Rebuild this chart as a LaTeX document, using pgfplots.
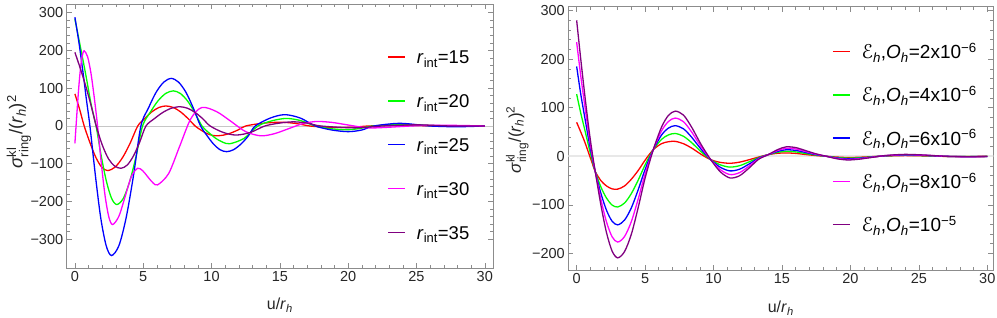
\documentclass[border=0pt]{standalone}
\usepackage{fontspec}
\setmainfont{Liberation Sans}
\newfontfamily\djv{DejaVu Sans}
\usepackage{amsmath}
\usepackage{pgfplots}
\pgfplotsset{compat=1.18}
\definecolor{mred}{rgb}{1,0,0}
\definecolor{mgreen}{rgb}{0,1,0}
\definecolor{mblue}{rgb}{0,0,1}
\definecolor{mmag}{rgb}{1,0,1}
\definecolor{mpur}{rgb}{0.5,0,0.5}
\definecolor{framegray}{gray}{0.55}
\newcommand{\lstrut}{\rule[-5pt]{0pt}{20pt}}
\pgfplotsset{
  lc/.style={legend image code/.code={\draw[#1, line width=1.5pt] (0pt,0pt) -- (17pt,0pt);}},
  mma/.style={
  scale only axis,
  axis line style={framegray, line width=0.8pt},
  tick style={framegray, line width=0.6pt},
  major tick length=5pt, minor tick length=3pt,
  minor x tick num=4, minor y tick num=4,
  tick align=inside, xtick pos=both, ytick pos=both,
  xtick={0,5,...,30},
  /pgf/number format/assume math mode=true,
  tick label style={font=\fontsize{14.5}{16}\selectfont, text=black!85},
  xlabel style={font=\fontsize{16}{18}\selectfont, text=black!85},
  legend cell align=left,
  legend style={draw=none, fill=none, inner sep=0pt, column sep=9pt},
  xlabel={u/\textit{r}\textsubscript{\textit{h}}},
  ylabel={$\text{\textit{σ}}^{\text{kl}}_{\text{ring}}$/(\textit{r}\textsubscript{\textit{h}})\textsuperscript{2}},
}}
\begin{document}
\begin{tikzpicture}
\useasboundingbox (0pt,0pt) rectangle (997pt,318pt);
% ---------------- left panel ----------------
\begin{axis}[mma, at={(66.7pt,50pt)}, anchor=south west,
  width=426.3pt, height=264pt,
  xmin=-0.6, xmax=30.6, ymin=-376, ymax=323,
  ytick={-300,-200,-100,0,100,200,300},
  yticklabels={−300,−200,−100,0,100,200,300},
  xlabel style={at={(axis description cs:0.5,-0.14)}, anchor=center},
  ylabel style={at={(axis description cs:-0.112,0.515)}, anchor=center,
    font=\fontsize{18.5}{20}\selectfont, text=black!85},
  legend style={at={(axis description cs:0.752,0.839)}, anchor=north west,
    font=\fontsize{18.5}{20}\selectfont, row sep=23.4pt},
]
\draw[gray!45, line width=0.6pt] (axis cs:-1,0) -- (axis cs:31,0);
\addplot[mred, line width=1.3pt, smooth, lc=mred] coordinates {
(0,85) (0.34,45) (0.68,0) (1.11,-45) (1.53,-83) (1.96,-109) (2.39,-118) (2.94,-109) (3.5,-83) (4.05,-45) (4.6,0) (5.12,20) (5.63,37.5) (6.15,49) (6.66,53) (7.2,49) (7.73,37.5) (8.27,20) (8.8,0) (9.19,-10) (9.58,-18.4) (9.97,-24) (10.36,-26) (10.9,-24) (11.43,-18.4) (11.97,-10) (12.5,0) (13.7,7) (15.0,10) (16.1,7) (17.2,0) (18.3,-3) (19.4,-4) (20.5,-3) (21.5,0) (24,2) (26.5,0) (28,-0.5) (30,0)};
\addlegendentry{\lstrut\textit{r}\textsubscript{int}=15}
\addplot[mgreen, line width=1.3pt, smooth, lc=mgreen] coordinates {
(0,283) (0.4,210) (0.8,135) (1.2,55) (1.55,0) (1.93,-80) (2.31,-147) (2.69,-192) (3.07,-208) (3.54,-192) (4.01,-147) (4.48,-80) (4.95,0) (5.51,36) (6.07,66) (6.64,86) (7.2,93) (7.72,86) (8.25,66) (8.77,36) (9.3,0) (9.81,-18) (10.32,-33) (10.83,-43) (11.34,-47) (12.37,-33) (13.4,0) (14.45,14) (15.5,20) (16.55,14) (17.6,0) (18.7,-7) (19.8,-10) (20.8,-7) (21.8,0) (24,4) (27,0) (30,0)};
\addlegendentry{\lstrut\textit{r}\textsubscript{int}=20}
\addplot[mblue, line width=1.3pt, smooth, lc=mblue] coordinates {
(0,288) (0.3,220) (0.6,140) (0.85,68) (1.1,0) (1.5,-131) (1.89,-243) (2.29,-317) (2.68,-343) (3.22,-317) (3.75,-243) (4.29,-131) (4.83,0) (5.39,48) (5.94,89) (6.5,116) (7.05,126) (7.59,116) (8.13,89) (8.66,48) (9.2,0) (9.68,-26) (10.15,-48) (10.63,-63) (11.1,-68) (11.6,-63) (12.15,-48) (12.7,-26) (13.2,0) (14.3,21) (15.36,30) (16.5,21) (17.6,0) (18.8,-10.6) (20.0,-15) (21.0,-10.6) (21.9,0) (23.8,7) (26,0) (28,-2) (30,0)};
\addlegendentry{\lstrut\textit{r}\textsubscript{int}=25}
\addplot[mmag, line width=1.3pt, smooth, lc=mmag] coordinates {
(0,-46) (0.15,35) (0.3,110) (0.45,165) (0.58,192) (0.68,199) (0.925,184) (1.17,141) (1.415,76) (1.66,0) (1.935,-100) (2.21,-185) (2.485,-241) (2.76,-261) (3.22,-239) (3.68,-186.5) (4.13,-134) (4.59,-112) (4.96,-118.4) (5.32,-134) (5.69,-149.6) (6.05,-156) (6.86,-126) (7.67,-53.5) (8.48,19) (9.29,49) (10.37,38) (11.45,11.5) (12.5,-15) (13.6,-26) (14.6,-20.4) (15.65,-7) (16.7,6.4) (17.7,12) (18.8,9.5) (19.85,3.5) (20.9,-2.5) (22,-5) (26,2) (30,0)};
\addlegendentry{\lstrut\textit{r}\textsubscript{int}=30}
\addplot[mpur, line width=1.3pt, smooth, lc=mpur] coordinates {
(0,195) (0.4,152) (0.8,105) (1.2,52) (1.56,0) (2.0,-50) (2.46,-87) (2.91,-106) (3.37,-112) (3.83,-103.5) (4.29,-79) (4.74,-43) (5.2,0) (5.82,19.5) (6.44,36) (7.06,47) (7.68,51) (8.24,47) (8.79,36) (9.35,19.5) (9.9,0) (10.85,-17) (11.8,-24) (12.85,-17) (13.9,0) (15,7.8) (16,11) (17,7.8) (18,0) (20.5,-5) (22.5,0) (25,3) (27.5,0) (30,0)};
\addlegendentry{\lstrut\textit{r}\textsubscript{int}=35}
\end{axis}
% ---------------- right panel ----------------
\begin{axis}[mma, at={(568.3pt,48pt)}, anchor=south west,
  width=425pt, height=263.3pt,
  xmin=-0.61, xmax=30.44, ymin=-234, ymax=308,
  ytick={-200,-100,0,100,200,300},
  yticklabels={−200,−100,0,100,200,300},
  xlabel style={at={(axis description cs:0.5,-0.144)}, anchor=center},
  ylabel style={at={(axis description cs:-0.12,0.494)}, anchor=center,
    font=\fontsize{17}{19}\selectfont, text=black!85},
  legend style={at={(axis description cs:0.62,0.870)}, anchor=north west,
    font=\fontsize{19}{21}\selectfont, row sep=22.2pt},
]
\draw[gray!18, line width=1.8pt] (axis cs:-1,0) -- (axis cs:31,0);
\addplot[mred, line width=1.3pt, smooth, lc=mred] coordinates {
(0,70) (0.3,50) (0.6,29) (0.9,5) (1.15,-15) (1.36,-31.5) (1.77,-50) (2.18,-61) (2.59,-67) (3.0,-67.5) (3.5,-61) (4.0,-47) (4.5,-29) (5.0,-8) (5.6,13.8) (6.2,26) (6.7,30) (7.2,30.8) (7.8,26) (8.4,17) (9.1,4) (9.8,-7) (10.5,-12.5) (11.2,-14.3) (11.9,-12) (12.6,-7) (13.3,-1.5) (14.0,3.5) (14.7,6.3) (15.3,7) (16.0,6) (16.7,3.8) (17.5,1.5) (18.26,0) (19.0,-1.5) (19.8,-2.5) (20.6,-2) (21.5,-0.8) (22.5,0.5) (24.0,1.5) (25.5,0.8) (27,-0.2) (28.5,-0.3) (30,0)};
\addlegendentry{\lstrut{\djv ℰ}\textsubscript{\textit{h}},\textit{O}\textsubscript{\textit{h}}=2x10\textsuperscript{−6}}
\addplot[mgreen, line width=1.3pt, smooth, lc=mgreen] coordinates {
(0,128) (0.3,89) (0.6,54) (0.9,18) (1.15,-9.8) (1.36,-31.5) (1.77,-63) (2.18,-86) (2.59,-100.3) (3.0,-104.3) (3.5,-96.1) (4.0,-76.4) (4.5,-48.8) (5.0,-17.6) (5.6,13.8) (6.2,34.8) (6.7,44) (7.2,47) (7.8,41.3) (8.4,28.2) (9.1,9.2) (9.8,-7) (10.5,-17.6) (11.2,-22.2) (11.9,-19.3) (12.6,-11.4) (13.3,-2.7) (14.0,3.5) (14.7,8.3) (15.3,10.3) (16.0,9.1) (16.7,5.9) (17.5,2.4) (18.26,0) (19.0,-2.4) (19.8,-3.8) (20.6,-3) (21.5,-1.2) (22.5,0.8) (24.0,2.2) (25.5,1.2) (27,-0.1) (28.5,-0.5) (30,-0.1)};
\addlegendentry{\lstrut{\djv ℰ}\textsubscript{\textit{h}},\textit{O}\textsubscript{\textit{h}}=4x10\textsuperscript{−6}}
\addplot[mblue, line width=1.3pt, smooth, lc=mblue] coordinates {
(0,185) (0.3,128) (0.6,79) (0.9,31) (1.15,-4.6) (1.36,-31.5) (1.77,-76) (2.18,-111) (2.59,-133.6) (3.0,-141.1) (3.5,-131.2) (4.0,-105.8) (4.5,-68.5) (5.0,-27.2) (5.6,13.8) (6.2,43.7) (6.7,58) (7.2,63.1) (7.8,56.7) (8.4,39.4) (9.1,14.4) (9.8,-7) (10.5,-22.6) (11.2,-30) (11.9,-26.6) (12.6,-15.8) (13.3,-3.8) (14.0,3.5) (14.7,10.3) (15.3,13.5) (16.0,12.2) (16.7,8.1) (17.5,3.3) (18.26,0) (19.0,-3.3) (19.8,-5.1) (20.6,-4.1) (21.5,-1.7) (22.5,1) (24.0,2.8) (25.5,1.7) (27,0) (28.5,-0.7) (30,-0.3)};
\addlegendentry{\lstrut{\djv ℰ}\textsubscript{\textit{h}},\textit{O}\textsubscript{\textit{h}}=6x10\textsuperscript{−6}}
\addplot[mmag, line width=1.3pt, smooth, lc=mmag] coordinates {
(0,235) (0.3,165.5) (0.6,103) (0.9,43.5) (1.15,0.4) (1.36,-31.5) (1.77,-88.5) (2.18,-135) (2.59,-165.6) (3.0,-176.5) (3.5,-165) (4.0,-134) (4.5,-87.5) (5.0,-36.5) (5.6,13.8) (6.2,52.2) (6.7,71.6) (7.2,78.7) (7.8,71.4) (8.4,50.1) (9.1,19.4) (9.8,-7) (10.5,-27.5) (11.2,-37.6) (11.9,-33.6) (12.6,-20.1) (13.3,-5) (14.0,3.5) (14.7,12.2) (15.3,16.6) (16.0,15.2) (16.7,10.1) (17.5,4.2) (18.26,0) (19.0,-4.2) (19.8,-6.4) (20.6,-5.1) (21.5,-2.1) (22.5,1.3) (24.0,3.4) (25.5,2.1) (27,0) (28.5,-0.8) (30,-0.4)};
\addlegendentry{\lstrut{\djv ℰ}\textsubscript{\textit{h}},\textit{O}\textsubscript{\textit{h}}=8x10\textsuperscript{−6}}
\addplot[mpur, line width=1.3pt, smooth, lc=mpur] coordinates {
(0,280) (0.3,200) (0.6,125) (0.9,55) (1.15,5) (1.36,-31.5) (1.77,-100) (2.18,-157) (2.59,-195) (3.0,-209) (3.5,-196) (4.0,-160) (4.5,-105) (5.0,-45) (5.6,13.8) (6.2,60) (6.7,84) (7.2,93) (7.8,85) (8.4,60) (9.1,24) (9.8,-7) (10.5,-32) (11.2,-44.5) (11.9,-40) (12.6,-24) (13.3,-6) (14.0,3.5) (14.7,14) (15.3,19.5) (16.0,18) (16.7,12) (17.5,5) (18.26,0) (19.0,-5) (19.8,-7.5) (20.6,-6) (21.5,-2.5) (22.5,1.5) (24.0,4) (25.5,2.5) (27,0) (28.5,-1) (30,-0.5)};
\addlegendentry{\lstrut{\djv ℰ}\textsubscript{\textit{h}},\textit{O}\textsubscript{\textit{h}}=10\textsuperscript{−5}}
\end{axis}
\end{tikzpicture}
\end{document}
